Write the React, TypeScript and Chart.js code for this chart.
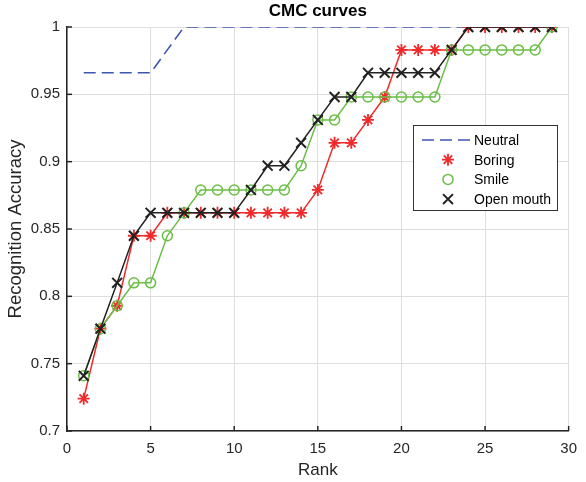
import React, { useEffect, useRef } from "react";
import { Chart, registerables } from "chart.js";
import { drawPoint } from "chart.js/helpers";

Chart.register(...registerables);

const ranks = [1, 2, 3, 4, 5, 6, 7, 8, 9, 10, 11, 12, 13, 14, 15, 16, 17, 18, 19, 20, 21, 22, 23, 24, 25, 26, 27, 28, 29];
const neutral = [0.966, 0.966, 0.966, 0.966, 0.966, 0.983, 1, 1, 1, 1, 1, 1, 1, 1, 1, 1, 1, 1, 1, 1, 1, 1, 1, 1, 1, 1, 1, 1, 1];
const boring = [0.724, 0.776, 0.793, 0.845, 0.845, 0.862, 0.862, 0.862, 0.862, 0.862, 0.862, 0.862, 0.862, 0.862, 0.879, 0.914, 0.914, 0.931, 0.948, 0.983, 0.983, 0.983, 0.983, 1, 1, 1, 1, 1, 1];
const smile = [0.741, 0.776, 0.793, 0.81, 0.81, 0.845, 0.862, 0.879, 0.879, 0.879, 0.879, 0.879, 0.879, 0.897, 0.931, 0.931, 0.948, 0.948, 0.948, 0.948, 0.948, 0.948, 0.983, 0.983, 0.983, 0.983, 0.983, 0.983, 1];
const openMouth = [0.741, 0.776, 0.81, 0.845, 0.862, 0.862, 0.862, 0.862, 0.862, 0.862, 0.879, 0.897, 0.897, 0.914, 0.931, 0.948, 0.948, 0.966, 0.966, 0.966, 0.966, 0.966, 0.983, 1, 1, 1, 1, 1, 1];
const seriesNames = ["Neutral", "Boring", "Smile", "Open mouth"];
const titleText = "CMC curves";
const xTitle = "Rank";
const yTitle = "Recognition Accuracy";

const FONT = "'Liberation Sans', Arial, Helvetica, sans-serif";
const AXIS = "#262626";

const toPts = (vals: number[]) => ranks.map((r, i) => ({ x: r, y: vals[i] }));

const extrasPlugin = {
  id: "extras",
  afterDraw(chart: any) {
    const ctx = chart.ctx;
    const ca = chart.chartArea;
    const xs = chart.scales.x;
    const ys = chart.scales.y;
    ctx.save();
    // inward ticks
    ctx.strokeStyle = AXIS;
    ctx.lineWidth = 1.5;
    xs.ticks.forEach((t: any) => {
      const px = xs.getPixelForValue(t.value);
      ctx.beginPath();
      ctx.moveTo(px, ca.bottom);
      ctx.lineTo(px, ca.bottom - 5);
      ctx.stroke();
    });
    ys.ticks.forEach((t: any) => {
      const py = ys.getPixelForValue(t.value);
      ctx.beginPath();
      ctx.moveTo(ca.left, py);
      ctx.lineTo(ca.left + 5, py);
      ctx.stroke();
    });
    // title
    ctx.fillStyle = "#000";
    ctx.font = `bold 17px ${FONT}`;
    ctx.textAlign = "center";
    ctx.textBaseline = "middle";
    ctx.fillText(titleText, (ca.left + ca.right) / 2, 11);

    // legend
    const bx = ca.left + 346;
    const by = ca.top + 98;
    const bw = 144;
    const bh = 85;
    ctx.fillStyle = "#fff";
    ctx.fillRect(bx, by, bw, bh);
    ctx.strokeStyle = "#333";
    ctx.lineWidth = 1;
    ctx.strokeRect(bx + 0.5, by + 0.5, bw, bh);
    chart.data.datasets.forEach((ds: any, i: number) => {
      const rowY = by + 15 + i * 19.7;
      if (i === 0) {
        ctx.strokeStyle = ds.borderColor;
        ctx.lineWidth = 1.5;
        ctx.setLineDash(ds.borderDash);
        ctx.beginPath();
        ctx.moveTo(bx + 9, rowY);
        ctx.lineTo(bx + 57, rowY);
        ctx.stroke();
        ctx.setLineDash([]);
      } else {
        ctx.strokeStyle = ds.pointBorderColor;
        ctx.fillStyle = "rgba(0,0,0,0)";
        ctx.lineWidth = ds.pointBorderWidth;
        drawPoint(ctx, { pointStyle: ds.pointStyle, radius: ds.pointRadius, borderWidth: ds.pointBorderWidth, rotation: 0 }, bx + 35, rowY);
      }
      ctx.fillStyle = "#000";
      ctx.font = `14px ${FONT}`;
      ctx.textAlign = "left";
      ctx.textBaseline = "middle";
      ctx.fillText(seriesNames[i], bx + 61, rowY + 1);
    });
    ctx.restore();
  },
};

export default function App() {
  const ref = useRef<HTMLCanvasElement>(null);
  useEffect(() => {
    const chart = new Chart(ref.current as HTMLCanvasElement, {
      type: "line",
      data: {
        datasets: [
          {
            label: seriesNames[0],
            data: toPts(neutral),
            borderColor: "#3c56ad",
            borderWidth: 1.6,
            borderDash: [12, 6],
            pointRadius: 0,
            order: 4,
          },
          {
            label: seriesNames[1],
            data: toPts(boring),
            borderColor: "#f02a2a",
            borderWidth: 1.5,
            pointStyle: "star",
            pointRadius: 6,
            pointBorderColor: "#f02a2a",
            pointBorderWidth: 1.8,
            pointBackgroundColor: "rgba(0,0,0,0)",
            order: 3,
          },
          {
            label: seriesNames[2],
            data: toPts(smile),
            borderColor: "#6abf45",
            borderWidth: 1.5,
            pointStyle: "circle",
            pointRadius: 5,
            pointBorderColor: "#6abf45",
            pointBorderWidth: 1.5,
            pointBackgroundColor: "rgba(0,0,0,0)",
            order: 2,
          },
          {
            label: seriesNames[3],
            data: toPts(openMouth),
            borderColor: "#222",
            borderWidth: 1.5,
            pointStyle: "crossRot",
            pointRadius: 7,
            pointBorderColor: "#222",
            pointBorderWidth: 2,
            pointBackgroundColor: "rgba(0,0,0,0)",
            order: 1,
          },
        ],
      },
      options: {
        animation: false,
        responsive: true,
        maintainAspectRatio: false,
        layout: { padding: { top: 27, right: 0, left: 0, bottom: 0 } },
        plugins: { legend: { display: false }, title: { display: false }, tooltip: { enabled: false } },
        elements: { line: { tension: 0 } },
        scales: {
          x: {
            type: "linear",
            min: 0,
            max: 30,
            afterFit: (s: any) => { s.height = 51; },
            ticks: { stepSize: 5, padding: 9, color: AXIS, font: { family: FONT, size: 15 } },
            grid: { color: "#dedede", lineWidth: 1, drawTicks: false },
            border: { display: true, color: AXIS, width: 1.5 },
            title: { display: true, text: xTitle, color: AXIS, font: { family: FONT, size: 17 }, padding: { top: 0, bottom: 1 } },
          },
          y: {
            type: "linear",
            min: 0.7,
            max: 1,
            afterFit: (s: any) => { s.width = 67; },
            ticks: {
              stepSize: 0.05,
              padding: 7,
              color: AXIS,
              font: { family: FONT, size: 15 },
              callback: (v: any) => String(Number(Number(v).toFixed(2))),
            },
            grid: { color: "#dedede", lineWidth: 1, drawTicks: false },
            border: { display: true, color: AXIS, width: 1.5 },
            title: { display: true, text: yTitle, color: AXIS, font: { family: FONT, size: 18.5 }, padding: { top: 5, bottom: 0 } },
          },
        },
      },
      plugins: [extrasPlugin],
    } as any);
    return () => chart.destroy();
  }, []);
  return (
    <div style={{ position: "fixed", left: 0, top: 0, width: 586, height: 482, background: "#fff" }}>
      <canvas ref={ref} />
    </div>
  );
}
